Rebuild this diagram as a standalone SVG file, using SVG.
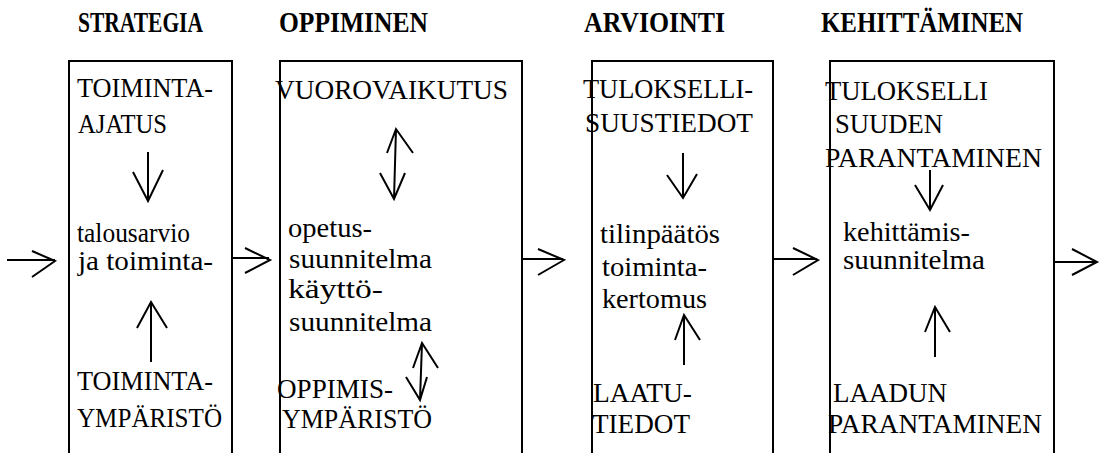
<svg xmlns="http://www.w3.org/2000/svg" width="1104" height="453" viewBox="0 0 1104 453">
<style>
.box{fill:none;stroke:#000;stroke-width:2}
.a{fill:none;stroke:#000;stroke-width:2;stroke-linecap:butt;stroke-linejoin:miter}
</style>
<rect width="1104" height="453" fill="#fff"/>
<g id="headers" font-family="Liberation Serif" font-weight="bold" font-size="29" fill="#000">
<text x="78" y="32" textLength="125" lengthAdjust="spacingAndGlyphs">STRATEGIA</text>
<text x="279" y="32" textLength="149" lengthAdjust="spacingAndGlyphs">OPPIMINEN</text>
<text x="584" y="32" textLength="141" lengthAdjust="spacingAndGlyphs">ARVIOINTI</text>
<text x="821" y="32" textLength="202" lengthAdjust="spacingAndGlyphs">KEHITTÄMINEN</text>
</g>
<g id="strategia" font-family="Liberation Serif" font-size="27" fill="#000">
<rect class="box" x="69" y="61" width="163" height="420"/>
<text x="77" y="97" textLength="136" lengthAdjust="spacingAndGlyphs">TOIMINTA-</text>
<text x="78" y="133" textLength="89" lengthAdjust="spacingAndGlyphs">AJATUS</text>
<text x="77" y="242" textLength="113" lengthAdjust="spacingAndGlyphs">talousarvio</text>
<text x="78" y="270" textLength="135" lengthAdjust="spacingAndGlyphs">ja toiminta-</text>
<text x="77" y="390" textLength="136" lengthAdjust="spacingAndGlyphs">TOIMINTA-</text>
<text x="77" y="427" textLength="145" lengthAdjust="spacingAndGlyphs">YMPÄRISTÖ</text>
</g>
<g id="oppiminen" font-family="Liberation Serif" font-size="27" fill="#000">
<rect class="box" x="280" y="61" width="242" height="420"/>
<text x="275" y="99" textLength="233" lengthAdjust="spacingAndGlyphs">VUOROVAIKUTUS</text>
<text x="288" y="237" textLength="84" lengthAdjust="spacingAndGlyphs">opetus-</text>
<text x="289" y="268" textLength="143" lengthAdjust="spacingAndGlyphs">suunnitelma</text>
<text x="288" y="298" textLength="95" lengthAdjust="spacingAndGlyphs">käyttö-</text>
<text x="289" y="331" textLength="143" lengthAdjust="spacingAndGlyphs">suunnitelma</text>
<text x="277" y="398" textLength="116" lengthAdjust="spacingAndGlyphs">OPPIMIS-</text>
<text x="282" y="428" textLength="150" lengthAdjust="spacingAndGlyphs">YMPÄRISTÖ</text>
</g>
<g id="arviointi" font-family="Liberation Serif" font-size="27" fill="#000">
<rect class="box" x="592" y="61" width="181" height="420"/>
<text x="583" y="98" textLength="170" lengthAdjust="spacingAndGlyphs">TULOKSELLI-</text>
<text x="585" y="132" textLength="168" lengthAdjust="spacingAndGlyphs">SUUSTIEDOT</text>
<text x="600" y="243" textLength="120" lengthAdjust="spacingAndGlyphs">tilinpäätös</text>
<text x="602" y="276" textLength="105" lengthAdjust="spacingAndGlyphs">toiminta-</text>
<text x="602" y="308" textLength="105" lengthAdjust="spacingAndGlyphs">kertomus</text>
<text x="593" y="402" textLength="99" lengthAdjust="spacingAndGlyphs">LAATU-</text>
<text x="592" y="433" textLength="98" lengthAdjust="spacingAndGlyphs">TIEDOT</text>
</g>
<g id="kehittaminen" font-family="Liberation Serif" font-size="27" fill="#000">
<rect class="box" x="830" y="61" width="224" height="420"/>
<text x="825" y="100" textLength="163" lengthAdjust="spacingAndGlyphs">TULOKSELLI</text>
<text x="835" y="133" textLength="108" lengthAdjust="spacingAndGlyphs">SUUDEN</text>
<text x="825" y="167" textLength="217" lengthAdjust="spacingAndGlyphs">PARANTAMINEN</text>
<text x="843" y="241" textLength="127" lengthAdjust="spacingAndGlyphs">kehittämis-</text>
<text x="843" y="269" textLength="142" lengthAdjust="spacingAndGlyphs">suunnitelma</text>
<text x="833" y="402" textLength="114" lengthAdjust="spacingAndGlyphs">LAADUN</text>
<text x="828" y="433" textLength="214" lengthAdjust="spacingAndGlyphs">PARANTAMINEN</text>
</g>
<g id="connectors">
<path class="a" d="M7 260H55M32 251L55 261L32 277"/>
<path class="a" d="M233 258H269M245 248L270 260L245 273"/>
<path class="a" d="M522 259H563M538 249L564 260L538 275"/>
<path class="a" d="M773 259H817M793 248L818 260L793 275"/>
<path class="a" d="M1054 262H1096M1072 249L1097 262L1072 275"/>
<path class="a" d="M148 152V201M133 172L148 201L163 170"/>
<path class="a" d="M151 362V302M137 328L151 302L167 328"/>
<path class="a" d="M396 129L394 199M387 153L396 129L413 153M380 173L394 199L405 173"/>
<path class="a" d="M422 343L420 400M413 368L422 343L438 368M406 377L420 400L427 377"/>
<path class="a" d="M683 153V198M667 175L683 198L697 174"/>
<path class="a" d="M684 365V315M675 340L684 315L700 340"/>
<path class="a" d="M930 170V210M915 185L930 210L943 185"/>
<path class="a" d="M935 357V307M925 332L935 307L950 332"/>
</g>
</svg>
